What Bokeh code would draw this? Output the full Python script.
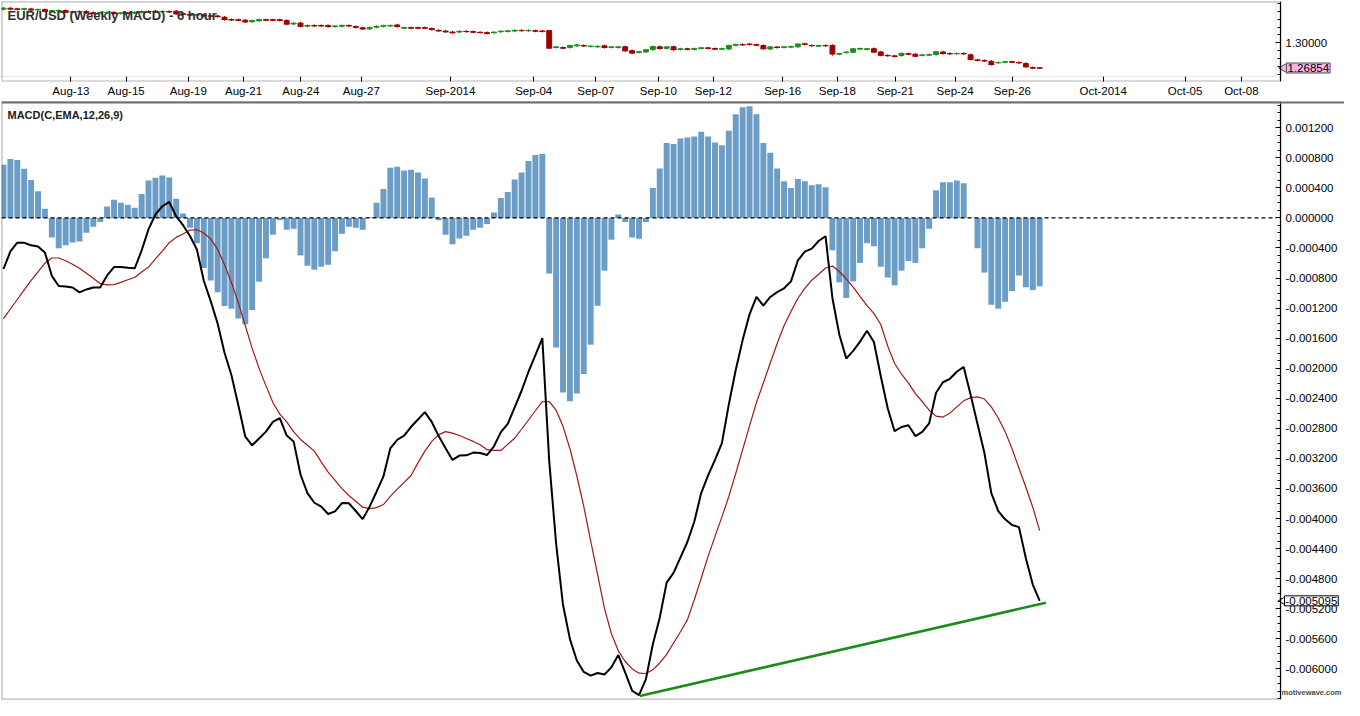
import numpy as np
from bokeh.plotting import figure
from bokeh.models import (Range1d, FixedTicker, PrintfTickFormatter, Span, Label, LinearAxis,
                          BoxAnnotation, ColumnDataSource)
from bokeh.layouts import column
from bokeh.embed import file_html
from bokeh.resources import INLINE

# ---------------- data (MACD values in units of 1e-4) ----------------
hist_e4 = [7.06, 7.84, 7.71, 6.54, 5.03, 3.56, 1.23, -2.62, -4.04, -3.65,
           -3.26, -3.13, -1.97, -1.19, -0.54, 1.53, 2.40, 2.01, 1.75, 1.36,
           3.17, 4.99, 5.34, 5.64, 5.38, 2.53, 0.58, -1.32, -3.39, -6.67,
           -8.32, -9.91, -11.73, -12.08, -13.37, -14.15, -12.25, -8.49, -5.38, -2.23,
           -0.30, -1.58, -1.45, -4.99, -6.37, -6.89, -6.50, -6.24, -4.43, -2.10,
           -1.19, -1.32, -1.58, 0.10, 2.01, 3.86, 6.67, 6.80, 6.32, 6.41,
           6.03, 5.25, 2.70, -0.30, -2.23, -3.52, -2.75, -2.36, -1.58, -1.32,
           -0.80, 0.71, 2.66, 3.43, 5.12, 6.03, 7.58, 8.36, 8.49, -7.41,
           -17.26, -23.22, -24.39, -23.35, -20.76, -16.87, -11.69, -7.02, -2.92, 0.45,
           -0.54, -2.62, -2.79, -0.54, 3.99, 6.58, 9.95, 9.82, 10.56, 10.69,
           10.82, 11.47, 10.82, 10.04, 9.65, 11.60, 13.80, 14.71, 14.84, 13.80,
           9.95, 8.66, 6.58, 4.86, 3.99, 5.16, 4.86, 4.34, 4.47, 4.08,
           -4.30, -8.58, -10.65, -8.45, -5.99, -3.39, -3.78, -6.50, -7.93, -8.97,
           -7.02, -5.73, -5.99, -4.04, -1.45, 3.69, 4.73, 4.73, 4.99, 4.60,
           0.05, -4.04, -7.28, -11.56, -12.08, -11.17, -9.74, -7.67, -9.23, -9.61,
           -9.10]

macd_e4 = [-6.80, -4.47, -3.30, -3.30, -3.65, -3.82, -4.60, -7.71, -9.07, -9.14,
           -9.26, -9.91, -9.52, -9.26, -9.26, -7.65, -6.54, -6.54, -6.63, -6.71,
           -4.34, -1.49, 0.45, 1.55, 2.14, 0.19, -0.97, -2.40, -4.21, -8.36,
           -11.08, -14.06, -17.95, -20.93, -24.94, -29.09, -30.26, -29.35, -28.44, -27.15,
           -26.63, -28.96, -29.74, -34.14, -36.61, -37.90, -38.42, -39.39, -39.04, -37.94,
           -37.97, -39.00, -40.08, -38.42, -36.44, -34.40, -30.65, -29.52, -28.96, -27.79,
           -26.82, -25.85, -27.15, -29.03, -30.65, -32.20, -31.62, -31.59, -31.23, -31.29,
           -31.55, -30.39, -28.51, -27.41, -25.20, -23.00, -20.47, -18.27, -16.00, -32.33,
           -43.34, -51.51, -56.04, -58.89, -60.41, -60.90, -60.55, -60.75, -59.80, -58.16,
           -60.51, -62.91, -63.49, -61.36, -56.73, -53.19, -48.53, -47.23, -45.16, -43.12,
           -40.43, -36.61, -34.27, -32.20, -29.96, -24.81, -20.24, -16.26, -12.83, -10.52,
           -11.66, -10.52, -9.87, -9.37, -8.45, -5.64, -4.50, -4.08, -3.08, -2.44,
           -10.69, -15.55, -18.72, -17.69, -16.46, -15.01, -16.52, -21.06, -25.33, -28.38,
           -27.82, -27.59, -29.03, -28.47, -27.34, -23.26, -21.87, -21.41, -20.47, -19.83,
           -23.52, -27.41, -31.29, -36.61, -39.00, -40.10, -40.86, -41.14, -45.29, -48.79,
           -50.95]

signal_e4 = [-13.41, -12.12, -10.86, -9.59, -8.32, -7.19, -6.03, -5.34, -5.34, -5.70,
             -6.16, -6.71, -7.36, -8.03, -8.75, -8.92, -8.88, -8.58, -8.23, -7.93,
             -7.19, -6.54, -5.44, -4.41, -3.30, -2.59, -2.14, -1.62, -1.58, -2.01,
             -2.79, -4.21, -6.22, -8.62, -11.27, -14.32, -17.36, -20.02, -22.35, -24.56,
             -26.11, -27.15, -28.44, -29.48, -30.26, -31.03, -32.46, -33.82, -34.92, -36.02,
             -36.93, -37.71, -38.49, -38.68, -38.55, -38.14, -37.06, -36.09, -35.18, -34.27,
             -32.59, -31.03, -29.74, -28.83, -28.44, -28.64, -28.96, -29.35, -29.74, -30.19,
             -30.84, -30.94, -30.94, -30.13, -29.31, -28.12, -26.89, -25.66, -24.46, -24.43,
             -25.59, -27.73, -30.71, -34.34, -38.38, -42.96, -47.43, -51.96, -55.33, -57.60,
             -59.02, -60.00, -60.58, -60.62, -60.13, -59.22, -58.08, -56.56, -55.07, -53.49,
             -50.80, -47.94, -45.03, -42.37, -39.78, -37.06, -34.01, -30.84, -27.67, -24.56,
             -21.96, -19.31, -16.72, -14.32, -12.44, -10.69, -9.39, -8.29, -7.49, -6.67,
             -6.41, -7.13, -8.10, -9.20, -10.43, -11.66, -12.70, -14.19, -17.04, -19.37,
             -20.80, -21.96, -23.39, -24.43, -25.59, -26.37, -26.50, -25.98, -25.14, -24.34,
             -23.91, -23.82, -24.10, -25.14, -26.63, -28.44, -30.71, -33.30, -35.83, -38.49,
             -41.60]

# ---------------- price candles (EUR/USD, 6 hour) ----------------
opens = [1.3423, 1.3435, 1.3427, 1.3423, 1.3427, 1.3415, 1.3419, 1.3399, 1.3403, 1.3407,
         1.3387, 1.3391, 1.3395, 1.3379, 1.3371, 1.3379, 1.3383, 1.3371, 1.3375, 1.3375,
         1.3383, 1.3395, 1.3399, 1.3391, 1.3395, 1.3399, 1.3367, 1.3359, 1.3351, 1.3355,
         1.3339, 1.3339, 1.3323, 1.3294, 1.3290, 1.3286, 1.3266, 1.3278, 1.3290, 1.3290,
         1.3290, 1.3282, 1.3238, 1.3250, 1.3210, 1.3218, 1.3218, 1.3218, 1.3206, 1.3210,
         1.3218, 1.3206, 1.3190, 1.3177, 1.3198, 1.3210, 1.3214, 1.3226, 1.3186, 1.3190,
         1.3190, 1.3190, 1.3181, 1.3157, 1.3149, 1.3137, 1.3137, 1.3145, 1.3141, 1.3133,
         1.3129, 1.3129, 1.3141, 1.3145, 1.3149, 1.3157, 1.3153, 1.3153, 1.3149, 1.3157,
         1.2944, 1.2940, 1.2944, 1.2964, 1.2968, 1.2956, 1.2952, 1.2964, 1.2946, 1.2944,
         1.2952, 1.2903, 1.2883, 1.2887, 1.2916, 1.2952, 1.2932, 1.2952, 1.2920, 1.2924,
         1.2920, 1.2932, 1.2936, 1.2928, 1.2924, 1.2924, 1.2972, 1.2980, 1.2984, 1.2976,
         1.2968, 1.2924, 1.2948, 1.2946, 1.2950, 1.2952, 1.2988, 1.2968, 1.2962, 1.2968,
         1.2968, 1.2861, 1.2879, 1.2883, 1.2924, 1.2922, 1.2928, 1.2887, 1.2843, 1.2835,
         1.2843, 1.2863, 1.2859, 1.2845, 1.2849, 1.2855, 1.2887, 1.2867, 1.2865, 1.2867,
         1.2851, 1.2785, 1.2778, 1.2770, 1.2752, 1.2760, 1.2762, 1.2754, 1.2742, 1.2690,
         1.2686]
closes = [1.3435, 1.3427, 1.3423, 1.3427, 1.3415, 1.3419, 1.3399, 1.3403, 1.3407, 1.3387,
          1.3391, 1.3395, 1.3379, 1.3371, 1.3379, 1.3383, 1.3371, 1.3375, 1.3373, 1.3383,
          1.3395, 1.3393, 1.3391, 1.3395, 1.3391, 1.3367, 1.3359, 1.3351, 1.3355, 1.3339,
          1.3337, 1.3331, 1.3294, 1.3290, 1.3286, 1.3266, 1.3278, 1.3290, 1.3288, 1.3288,
          1.3286, 1.3238, 1.3246, 1.3210, 1.3218, 1.3216, 1.3216, 1.3206, 1.3210, 1.3218,
          1.3216, 1.3198, 1.3177, 1.3190, 1.3206, 1.3214, 1.3218, 1.3206, 1.3190, 1.3188,
          1.3188, 1.3188, 1.3169, 1.3153, 1.3141, 1.3129, 1.3145, 1.3143, 1.3137, 1.3131,
          1.3121, 1.3133, 1.3145, 1.3149, 1.3157, 1.3155, 1.3157, 1.3149, 1.3145, 1.2936,
          1.2948, 1.2936, 1.2964, 1.2972, 1.2964, 1.2958, 1.2956, 1.2944, 1.2948, 1.2948,
          1.2903, 1.2875, 1.2887, 1.2912, 1.2952, 1.2932, 1.2948, 1.2916, 1.2924, 1.2922,
          1.2928, 1.2936, 1.2934, 1.2924, 1.2926, 1.2964, 1.2976, 1.2978, 1.2982, 1.2974,
          1.2928, 1.2948, 1.2944, 1.2948, 1.2952, 1.2984, 1.2984, 1.2966, 1.2964, 1.2966,
          1.2863, 1.2863, 1.2883, 1.2924, 1.2928, 1.2924, 1.2887, 1.2847, 1.2841, 1.2833,
          1.2867, 1.2861, 1.2835, 1.2847, 1.2851, 1.2887, 1.2867, 1.2865, 1.2867, 1.2865,
          1.2795, 1.2783, 1.2776, 1.2730, 1.2754, 1.2762, 1.2760, 1.2752, 1.2702, 1.2686,
          1.26854]
highs = [1.3450, 1.3450, 1.3442, 1.3442, 1.3442, 1.3434, 1.3434, 1.3418, 1.3422, 1.3422,
         1.3406, 1.3410, 1.3410, 1.3394, 1.3394, 1.3398, 1.3398, 1.3390, 1.3390, 1.3398,
         1.3410, 1.3410, 1.3414, 1.3410, 1.3410, 1.3414, 1.3382, 1.3374, 1.3370, 1.3370,
         1.3354, 1.3354, 1.3338, 1.3309, 1.3305, 1.3301, 1.3293, 1.3305, 1.3305, 1.3305,
         1.3305, 1.3297, 1.3261, 1.3265, 1.3233, 1.3233, 1.3233, 1.3233, 1.3225, 1.3233,
         1.3233, 1.3221, 1.3205, 1.3205, 1.3221, 1.3229, 1.3233, 1.3241, 1.3205, 1.3205,
         1.3205, 1.3205, 1.3196, 1.3172, 1.3164, 1.3152, 1.3160, 1.3160, 1.3156, 1.3148,
         1.3144, 1.3148, 1.3160, 1.3164, 1.3172, 1.3172, 1.3172, 1.3168, 1.3164, 1.3162,
         1.2963, 1.2955, 1.2979, 1.2987, 1.2983, 1.2973, 1.2971, 1.2979, 1.2963, 1.2963,
         1.2967, 1.2918, 1.2902, 1.2927, 1.2967, 1.2967, 1.2963, 1.2967, 1.2939, 1.2939,
         1.2943, 1.2951, 1.2951, 1.2943, 1.2941, 1.2979, 1.2991, 1.2995, 1.2999, 1.2991,
         1.2983, 1.2963, 1.2963, 1.2963, 1.2967, 1.2999, 1.3003, 1.2983, 1.2979, 1.2983,
         1.2983, 1.2878, 1.2898, 1.2939, 1.2943, 1.2939, 1.2943, 1.2902, 1.2858, 1.2850,
         1.2882, 1.2878, 1.2874, 1.2862, 1.2866, 1.2902, 1.2902, 1.2882, 1.2882, 1.2882,
         1.2866, 1.2800, 1.2793, 1.2785, 1.2769, 1.2777, 1.2777, 1.2769, 1.2757, 1.2705,
         1.2693]
lows = [1.3408, 1.3412, 1.3408, 1.3408, 1.3400, 1.3400, 1.3384, 1.3384, 1.3388, 1.3372,
        1.3372, 1.3376, 1.3364, 1.3356, 1.3356, 1.3364, 1.3356, 1.3356, 1.3358, 1.3360,
        1.3368, 1.3378, 1.3376, 1.3376, 1.3376, 1.3352, 1.3344, 1.3336, 1.3336, 1.3324,
        1.3322, 1.3316, 1.3279, 1.3275, 1.3271, 1.3251, 1.3251, 1.3263, 1.3273, 1.3273,
        1.3271, 1.3223, 1.3223, 1.3195, 1.3195, 1.3201, 1.3201, 1.3191, 1.3191, 1.3195,
        1.3201, 1.3183, 1.3162, 1.3162, 1.3183, 1.3195, 1.3199, 1.3191, 1.3171, 1.3173,
        1.3173, 1.3173, 1.3154, 1.3138, 1.3126, 1.3114, 1.3122, 1.3128, 1.3122, 1.3116,
        1.3106, 1.3114, 1.3126, 1.3130, 1.3134, 1.3140, 1.3138, 1.3134, 1.3130, 1.2930,
        1.2929, 1.2921, 1.2929, 1.2949, 1.2949, 1.2941, 1.2937, 1.2929, 1.2931, 1.2929,
        1.2888, 1.2860, 1.2868, 1.2872, 1.2901, 1.2917, 1.2917, 1.2901, 1.2905, 1.2907,
        1.2905, 1.2917, 1.2919, 1.2909, 1.2909, 1.2909, 1.2957, 1.2963, 1.2967, 1.2959,
        1.2913, 1.2909, 1.2929, 1.2931, 1.2935, 1.2937, 1.2969, 1.2951, 1.2947, 1.2951,
        1.2840, 1.2846, 1.2864, 1.2868, 1.2909, 1.2907, 1.2872, 1.2832, 1.2826, 1.2818,
        1.2828, 1.2846, 1.2820, 1.2830, 1.2834, 1.2840, 1.2852, 1.2850, 1.2850, 1.2850,
        1.2780, 1.2768, 1.2761, 1.2715, 1.2737, 1.2745, 1.2745, 1.2737, 1.2687, 1.2671,
        1.2680]

tick_pos = [9.76, 17.76, 26.76, 34.76, 43.05, 51.8, 64.7, 76.76, 85.76, 94.8,
            102.76, 112.8, 120.7, 129.1, 137.76, 146.05, 159.2, 171.04, 179.2]
tick_labels = ["Aug-13", "Aug-15", "Aug-19", "Aug-21", "Aug-24", "Aug-27", "Sep-2014",
               "Sep-04", "Sep-07", "Sep-10", "Sep-12", "Sep-16", "Sep-18", "Sep-21",
               "Sep-24", "Sep-26", "Oct-2014", "Oct-05", "Oct-08"]

trend_x = [92.1, 150.9]
trend_y = [-0.00636, -0.00512]

last_price = 1.26854
last_macd = -0.005095

macd_ticks = [-0.0060, -0.0056, -0.0052, -0.0048, -0.0044, -0.0040, -0.0036, -0.0032,
              -0.0028, -0.0024, -0.0020, -0.0016, -0.0012, -0.0008, -0.0004, 0.0,
              0.0004, 0.0008, 0.0012]
price_ticks = [1.30]

# ---------------- layout constants ----------------
W = 1344
CHART_W = 1279            # pixel width of the chart area left of the price axis
x_start, x_axis = -0.2857, 184.86
px_x = (x_axis - x_start) / CHART_W
x_full_end = x_start + (W - 1) * px_x
y1_start, y1_end = 1.2516, 1.35203
y2_start, y2_end = -0.0064077, 0.0015485
FONT = "Liberation Sans"

idx = np.arange(len(hist_e4))
hist = np.array(hist_e4) * 1e-4
macd = np.array(macd_e4) * 1e-4
signal = np.array(signal_e4) * 1e-4

o = np.array(opens); c = np.array(closes)
colors = np.where(c > o, "#1e8c1e", np.where(c < o, "#a00000", "#808080"))
cs = ColumnDataSource(dict(x=idx, o=o, c=c, h=np.array(highs), l=np.array(lows),
                           top=np.maximum(o, c), bot=np.minimum(o, c), col=colors))

xr = Range1d(x_start, x_full_end)


def price_axis(fmt, ticks, minor):
    ax = LinearAxis(fixed_location=x_axis)
    ax.ticker = FixedTicker(ticks=ticks, minor_ticks=minor)
    ax.formatter = PrintfTickFormatter(format=fmt)
    ax.major_tick_in = 5
    ax.major_tick_out = 0
    ax.minor_tick_in = 3
    ax.minor_tick_out = 0
    ax.axis_line_color = "black"
    ax.major_label_standoff = 5
    ax.major_label_text_font = FONT
    ax.major_label_text_font_size = "11.5px"
    ax.major_label_text_color = "black"
    return ax


# ---------------- top price panel ----------------
p1 = figure(width=W, height=99, x_range=xr, y_range=Range1d(y1_start, y1_end),
            output_backend="svg", toolbar_location=None, y_axis_location=None,
            min_border_left=1, min_border_right=0, min_border_top=1, min_border_bottom=0)
p1.background_fill_color = "white"
p1.border_fill_color = "white"
p1.outline_line_color = None
p1.grid.visible = False

p1.xaxis.ticker = FixedTicker(ticks=tick_pos)
p1.xaxis.major_label_overrides = {t: l for t, l in zip(tick_pos, tick_labels)}
p1.xaxis.major_tick_in = 5
p1.xaxis.major_tick_out = 0
p1.xaxis.minor_tick_line_color = None
p1.xaxis.axis_line_color = None
p1.xaxis.major_label_standoff = 3
p1.xaxis.major_label_text_font = FONT
p1.xaxis.major_label_text_font_size = "11.5px"
p1.xaxis.major_label_text_color = "black"

py1 = (y1_end - y1_start) / 81
p1.add_layout(BoxAnnotation(left=x_start, right=x_axis - 4.5 * px_x, bottom=y1_start + 5 * py1,
                            top=y1_end, fill_alpha=0, line_color="#a8a8a0", line_width=1))
p1.add_layout(BoxAnnotation(left=x_start, right=x_axis, bottom=y1_start, top=y1_end,
                            fill_alpha=0, line_color="black", line_width=2))
p1.add_layout(price_axis("%.5f", price_ticks,
                         [1.26, 1.27, 1.28, 1.29, 1.31, 1.32, 1.33, 1.34, 1.35]), "right")

p1.add_layout(Label(x=x_start + 6 * px_x, y=y1_end - 7 * py1, text="EUR/USD (Weekly MACD) - 6 hour",
                    text_baseline="top", text_font=FONT, text_font_size="13px",
                    text_font_style="bold", text_color="#303030"))

p1.segment(x0="x", y0="l", x1="x", y1="h", color="col", line_width=1, source=cs)
p1.vbar(x="x", top="top", bottom="bot", width=0.7, fill_color="col", line_color="col", source=cs)
p1.scatter(x="x", y="c", marker="dash", size=6, line_color="col", line_width=1, source=cs)

p1.scatter(x=[x_axis + 4 * px_x], y=[last_price], marker="triangle", angle=np.pi / 2, size=10,
           fill_color="#f2b6ec", line_color="#505050", line_width=1)
p1.add_layout(Label(x=x_axis, y=last_price, x_offset=6, text=f"{last_price:.5f}",
                    text_baseline="middle", text_font=FONT, text_font_size="11.5px",
                    text_color="black", background_fill_color="#f2b6ec",
                    border_line_color="#505050", padding=1))

# ---------------- MACD panel ----------------
p2 = figure(width=W, height=601, x_range=xr, y_range=Range1d(y2_start, y2_end),
            output_backend="svg", toolbar_location=None, y_axis_location=None,
            x_axis_location=None,
            min_border_left=1, min_border_right=0, min_border_top=2, min_border_bottom=1)
p2.background_fill_color = "white"
p2.border_fill_color = "white"
p2.outline_line_color = None
p2.grid.visible = False

py2 = (y2_end - y2_start) / 598
p2.add_layout(BoxAnnotation(left=x_start, right=x_axis - 4.5 * px_x, bottom=y2_start, top=y2_end,
                            fill_alpha=0, line_color="#a8a8a0", line_width=1))
p2.add_layout(BoxAnnotation(left=x_start, right=x_axis, bottom=y2_start, top=y2_end,
                            fill_alpha=0, line_color="black", line_width=2))
p2.add_layout(Span(location=y2_end, dimension="width", line_color="#6e6e6e", line_width=4))

p2.vbar(x=idx, top=hist, bottom=0, width=0.86, fill_color="#6b9dc7", line_color=None)
# zero reference line (dashed) across the chart area
p2.segment(x0=[x_start], y0=[0.0], x1=[x_axis - 4.5 * px_x], y1=[0.0],
           line_color="black", line_width=1.2, line_dash="4 3")
p2.line(idx, signal, line_color="#a01818", line_width=1.2)
p2.line(idx, macd, line_color="black", line_width=2)
p2.line(trend_x, trend_y, line_color="#1a8c1a", line_width=2.5)

p2.add_layout(price_axis("%.6f", macd_ticks,
                         [round(-0.0064 + 0.0001 * k, 4) for k in range(80)]), "right")

p2.add_layout(Label(x=x_start + 6 * px_x, y=y2_end - 7 * py2, text="MACD(C,EMA,12,26,9)",
                    text_baseline="top", text_font=FONT, text_font_size="11px",
                    text_font_style="bold", text_color="#202020"))

p2.scatter(x=[x_axis + 3 * px_x], y=[last_macd], marker="triangle", angle=np.pi / 2, size=9,
           fill_color="white", line_color="black", line_width=1)
p2.add_layout(Label(x=x_axis, y=last_macd, x_offset=4, text=f"{last_macd:.6f}",
                    text_baseline="middle", text_font=FONT, text_font_size="11.5px",
                    text_color="black", background_fill_color="white",
                    border_line_color="black", padding=1))

p2.add_layout(Label(x=x_axis, y=y2_start + 3 * py2, x_offset=1, text="motivewave.com",
                    text_baseline="bottom", text_font=FONT, text_font_size="7.5px",
                    text_font_style="bold", text_color="#4a4a4a"))

layout = column(p1, p2, spacing=0)
open("out.html", "w").write(file_html(layout, INLINE))
